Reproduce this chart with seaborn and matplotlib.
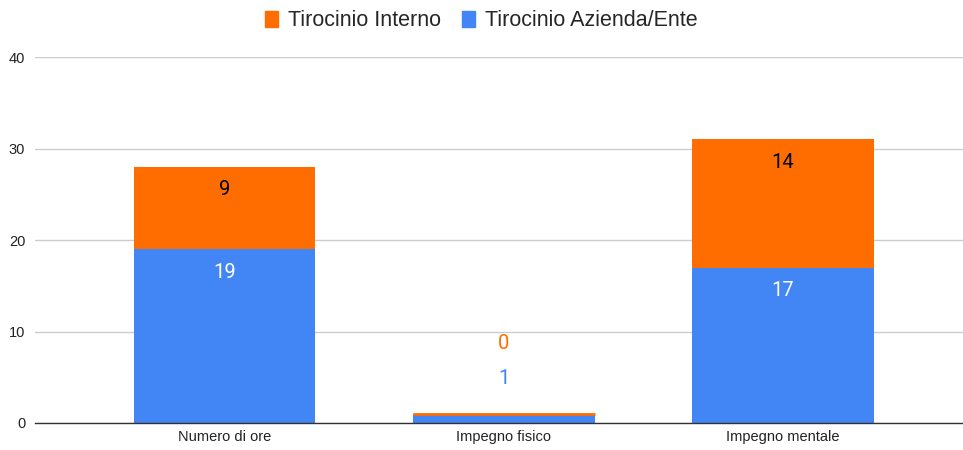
import numpy as np
import pandas as pd
import seaborn as sns
import matplotlib.pyplot as plt
from matplotlib.patches import Patch

# Data
categories = ["Numero di ore", "Impegno fisico", "Impegno mentale"]
azienda = [19, 1, 17]
interno = [9, 0, 14]

blue = "#4285F4"
orange = "#FF6D01"

sns.set_theme(style="white")
plt.rcParams["font.family"] = ["Liberation Sans", "DejaVu Sans"]

df = pd.DataFrame({"categoria": categories, "azienda": azienda, "interno": interno})
df["totale"] = df["azienda"] + df["interno"]

fig = plt.figure(figsize=(9.63, 4.5), dpi=100)
ax = fig.add_axes([0.0363, 0.06, 0.9637, 0.813])

bar_w = 0.65
# Stacked bars: total (orange) behind, bottom segment (blue) in front
sns.barplot(data=df, x="categoria", y="totale", color=orange, width=bar_w,
            saturation=1, ax=ax, zorder=2, linewidth=0)
sns.barplot(data=df, x="categoria", y="azienda", color=blue, width=bar_w,
            saturation=1, ax=ax, zorder=3, linewidth=0)

# zero-height segments shown as a thin line, like the original
for i, row in df.iterrows():
    if row["interno"] == 0:
        ax.hlines(row["totale"], i - bar_w / 2, i + bar_w / 2, color=orange,
                  linewidth=2, zorder=4)

ax.set_ylim(0, 40)
ax.set_xlim(-0.68, 2.645)
ax.set_yticks([0, 10, 20, 30, 40])
ax.yaxis.grid(True, color="#cccccc", linewidth=1)
ax.set_axisbelow(True)
for s in ["top", "right", "left"]:
    ax.spines[s].set_visible(False)
ax.spines["bottom"].set_color("#333333")
ax.spines["bottom"].set_linewidth(1)
ax.spines["bottom"].set_zorder(5)
ax.set_xlabel("")
ax.set_ylabel("")
ax.tick_params(axis="both", length=0, labelsize=10.5, labelcolor="#222222")
ax.tick_params(axis="y", pad=7)
ax.tick_params(axis="x", pad=5)

# Data labels
px = 40 / 366  # data units per pixel
for i in range(len(categories)):
    a = azienda[i]
    b = interno[i]
    if a >= 3:
        ax.text(i, a - 23 * px, str(a), ha="center", va="center",
                color="white", fontsize=14.5, family="Roboto", zorder=6)
    else:
        ax.text(i, 4.9, str(a), ha="center", va="center", color=blue,
                fontsize=14.5, family="Roboto", zorder=6)
    if b >= 3:
        ax.text(i, a + b - 23 * px, str(b), ha="center", va="center",
                color="black", fontsize=14.5, family="Roboto", zorder=6)
    else:
        ax.text(i, 8.7, str(b), ha="center", va="center", color=orange,
                fontsize=14.5, family="Roboto", zorder=6)

handles = [Patch(color=orange, label="Tirocinio Interno"),
           Patch(color=blue, label="Tirocinio Azienda/Ente")]
fig.legend(handles=handles, loc="upper center", bbox_to_anchor=(0.5, 1.02),
           ncol=2, frameon=False, fontsize=15.5, handlelength=0.6,
           handleheight=0.8, handletextpad=0.45, columnspacing=1.0)

fig.savefig("out.png", dpi=100)
